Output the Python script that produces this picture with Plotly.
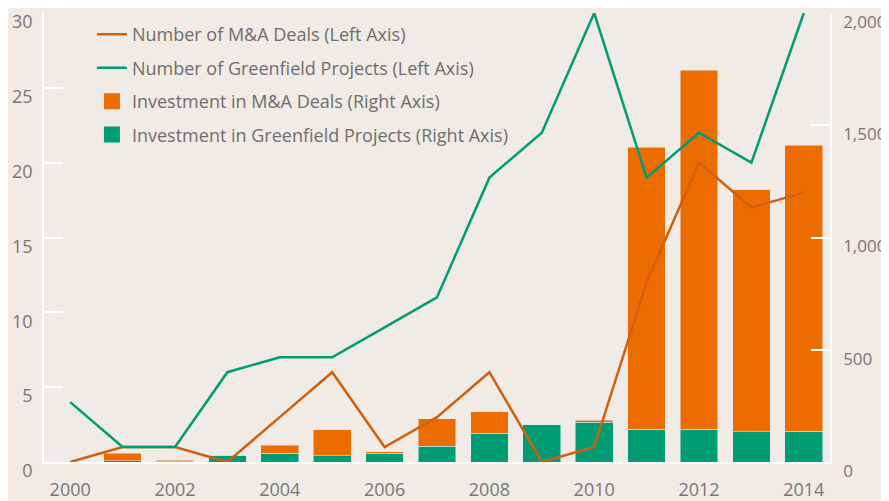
import plotly.graph_objects as go

years = list(range(2000, 2015))
ma_deals = [0, 1, 1, 0, 3, 6, 1, 3, 6, 0, 1, 12, 20, 17, 18]
greenfield_projects = [4, 1, 1, 6, 7, 7, 9, 11, 19, 22, 30, 19, 22, 20, 30]
greenfield_invest = [0, 5, 2, 30, 40, 27, 40, 71, 129, 165, 178, 147, 147, 134, 138]
ma_invest = [0, 35, 6, 0, 35, 116, 5, 121, 94, 0, 9, 1254, 1599, 1078, 1274]

ORANGE = "#EC6C00"
ORANGE_LINE = "#D0600C"
GREEN = "#009D74"
BG = "#F0EBE5"
GREY = "#777777"
FONT = "Open Sans"

fig = go.Figure()

# bars on the primary (right-hand) axis so the lines overlay them
fig.add_trace(go.Bar(x=years, y=greenfield_invest, marker_color=GREEN, width=0.72,
                     showlegend=False, yaxis="y"))
fig.add_trace(go.Bar(x=years, y=ma_invest, marker_color=ORANGE, width=0.72,
                     showlegend=False, yaxis="y"))

fig.add_trace(go.Scatter(x=years, y=ma_deals, mode="lines", name="Number of M&A Deals (Left Axis)",
                         line=dict(color=ORANGE_LINE, width=2.5), yaxis="y2",
                         legendrank=1, legendgroup="a"))
fig.add_trace(go.Scatter(x=years, y=greenfield_projects, mode="lines",
                         name="Number of Greenfield Projects (Left Axis)",
                         line=dict(color=GREEN, width=2.5), yaxis="y2",
                         legendrank=2, legendgroup="b"))

# legend swatches for the bars
fig.add_trace(go.Scatter(x=[None], y=[None], mode="markers", name="Investment in M&A Deals (Right Axis)",
                         marker=dict(symbol="square", size=16, color=ORANGE),
                         legendrank=3, legendgroup="c"))
fig.add_trace(go.Scatter(x=[None], y=[None], mode="markers",
                         name="Investment in Greenfield Projects (Right Axis)",
                         marker=dict(symbol="square", size=16, color=GREEN),
                         legendrank=4, legendgroup="d"))

# page body has an 8px margin, so the plot area is placed 8px up/left here
fig.update_layout(
    width=889, height=501,
    margin=dict(l=36, r=67, t=5, b=47, autoexpand=False),
    paper_bgcolor=BG, plot_bgcolor=BG,
    barmode="stack",
    font=dict(family=FONT, size=18, color=GREY),
    legend=dict(x=0.061, y=0.993, xanchor="left", yanchor="top", bgcolor="rgba(0,0,0,0)",
                font=dict(size=18, color="#6E6E6E"), traceorder="grouped", tracegroupgap=7),
    xaxis=dict(range=[1999.5, 2014.5], tickvals=list(range(2000, 2015, 2)),
               showgrid=False, zeroline=False, showline=True, linecolor="white", linewidth=2,
               ticks="", ticklabelstandoff=10, automargin=False, ticklabeloverflow="allow",
               tickfont=dict(size=18, color=GREY)),
    yaxis=dict(side="right", range=[0, 2000], tickvals=[0, 500, 1000, 1500, 2000],
               tickformat=",", showgrid=False, zeroline=False, showline=True,
               linecolor="white", linewidth=1.5, ticks="inside", ticklen=19,
               tickcolor="white", tickwidth=1.5, ticklabelstandoff=8, ticklabelshift=9,
               automargin=False, ticklabeloverflow="allow", tickfont=dict(size=17, color=GREY)),
    yaxis2=dict(side="left", overlaying="y", range=[0, 30], tickvals=[0, 5, 10, 15, 20, 25, 30],
                showgrid=False, zeroline=False, showline=True, linecolor="white", linewidth=1.5,
                ticks="inside", ticklen=19, tickcolor="white", tickwidth=1.5,
                ticklabelstandoff=6, ticklabelshift=9, automargin=False,
                ticklabeloverflow="allow", tickfont=dict(size=18, color=GREY)),
)

fig.write_html("out.html")
